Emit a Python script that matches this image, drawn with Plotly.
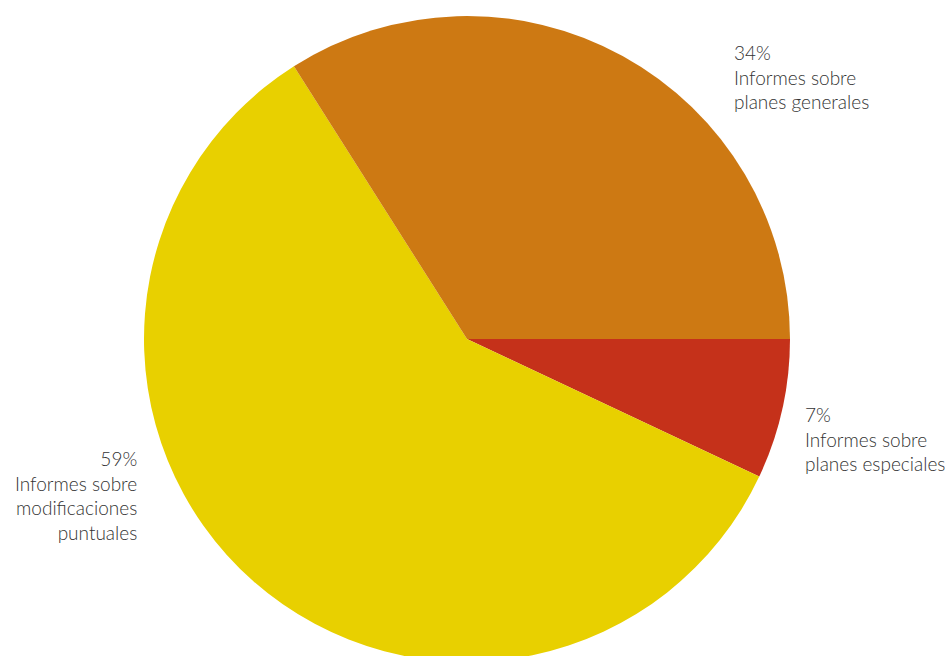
import plotly.graph_objects as go

categories = ["Informes sobre planes especiales",
              "Informes sobre modificaciones puntuales",
              "Informes sobre planes generales"]
values = [7, 59, 34]
label_lines = ["Informes sobre<br>planes especiales",
               "Informes sobre<br>modificaciones<br>puntuales",
               "Informes sobre<br>planes generales"]
colors = ["#C5311A", "#E8D000", "#CD7913"]

W, H = 947, 680
cx, cy, R = 467, 339, 323

fig = go.Figure(go.Pie(
    labels=categories, values=values, sort=False,
    direction="clockwise", rotation=90,
    marker=dict(colors=colors, line=dict(width=0)),
    textinfo="none", hoverinfo="label+percent",
    domain=dict(x=[(cx - R) / W, (cx + R) / W], y=[(H - cy - R) / H, (H - cy + R) / H]),
    showlegend=False,
))

font = dict(family="Lato, 'Open Sans', sans-serif", size=19, color="#333333", weight=300)
positions = [(803, 401, "left"), (139, 445, "right"), (732, 39, "left")]
for (x, y, al), v, t in zip(positions, values, label_lines):
    fig.add_annotation(x=x / W, y=1 - y / H, xref="paper", yref="paper",
                       xanchor=al, yanchor="top", align=al, showarrow=False,
                       text=f"{v}%<br>{t}", font=font)

fig.update_layout(width=W, height=H, margin=dict(l=0, r=0, t=0, b=0),
                  paper_bgcolor="white", plot_bgcolor="white")
fig.write_html("out.html", config={"displayModeBar": False},
               post_script="document.body.style.margin='0';document.body.style.overflow='hidden';")
